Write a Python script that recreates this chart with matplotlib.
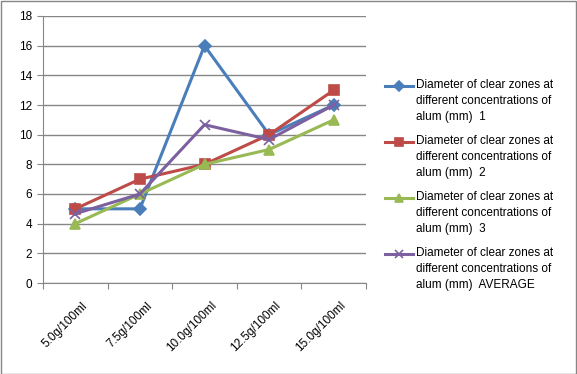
import numpy as np
import matplotlib.pyplot as plt
from matplotlib.patches import Rectangle
from matplotlib.lines import Line2D
import matplotlib.transforms as mtransforms

plt.rcParams['font.family'] = ['Liberation Sans', 'DejaVu Sans']

categories = ['5.0g/100ml', '7.5g/100ml', '10.0g/100ml', '12.5g/100ml', '15.0g/100ml']
trial_1 = [5, 5, 16, 10, 12]
trial_2 = [5, 7, 8, 10, 13]
trial_3 = [4, 6, 8, 9, 11]
average = [4.67, 6, 10.67, 9.67, 12]

base = 'Diameter of clear zones at\ndifferent concentrations of\nalum (mm)  '
series = [
    (trial_1, base + '1', '#4a7ebb', 'D', 6),
    (trial_2, base + '2', '#be4b48', 's', 7),
    (trial_3, base + '3', '#98b954', '^', 7),
    (average, base + 'AVERAGE', '#7d60a0', 'x', 7),
]

W, H = 577, 374
fig = plt.figure(figsize=(W / 100, H / 100), dpi=100)
ax = fig.add_axes([43/W, (H - 283)/H, 323/W, 267/H])

x = np.arange(len(categories))
for vals, lab, col, mk, ms in series:
    ax.plot(x, vals, color=col, lw=2.2, marker=mk, ms=ms, mew=1.2, zorder=3)

ax.set_xlim(-0.5, len(categories) - 0.5)
ax.set_ylim(0, 18)
ax.set_yticks(range(0, 19, 2))
ax.yaxis.grid(True, color='#868686', lw=1)
ax.set_axisbelow(True)

ax.set_xticks(np.arange(-0.5, len(categories), 1))
ax.set_xticklabels([])
ax.set_xticks(x, minor=True)
ax.set_xticklabels(categories, minor=True, rotation=45, ha='right', va='top',
                   rotation_mode='anchor', fontsize=8.5)
ax.tick_params(axis='x', which='minor', length=0, pad=12)
ax.tick_params(axis='x', which='major', length=4, color='#868686')
ax.tick_params(axis='y', length=4, color='#868686', labelsize=8.5, pad=4)
shift = mtransforms.ScaledTranslation(6/100, 0, fig.dpi_scale_trans)
for t in ax.get_xticklabels(minor=True):
    t.set_transform(t.get_transform() + shift)

for s in ['top', 'right']:
    ax.spines[s].set_visible(False)
for s in ['left', 'bottom']:
    ax.spines[s].set_color('#868686')

# legend drawn by hand so the key sits on the first text line, as in Excel
for i, (vals, lab, col, mk, ms) in enumerate(series):
    yy = 1 - (86 + 56 * i) / H
    fig.add_artist(Line2D([385/W, 413/W], [yy, yy], color=col, lw=2.2,
                          transform=fig.transFigure))
    fig.add_artist(Line2D([399/W], [yy], color=col, marker=mk, ms=ms - 1, mew=1.2,
                          transform=fig.transFigure))
    fig.text(416/W, yy + 7/H, lab, fontsize=8.5, va='top', ha='left', linespacing=1.45)

fig.patches.append(Rectangle((0.5/W, 0.5/H), (W - 1.5)/W, (H - 1.5)/H, transform=fig.transFigure,
                             fill=False, edgecolor='#868686', lw=1))

fig.savefig('out.png', dpi=100)
